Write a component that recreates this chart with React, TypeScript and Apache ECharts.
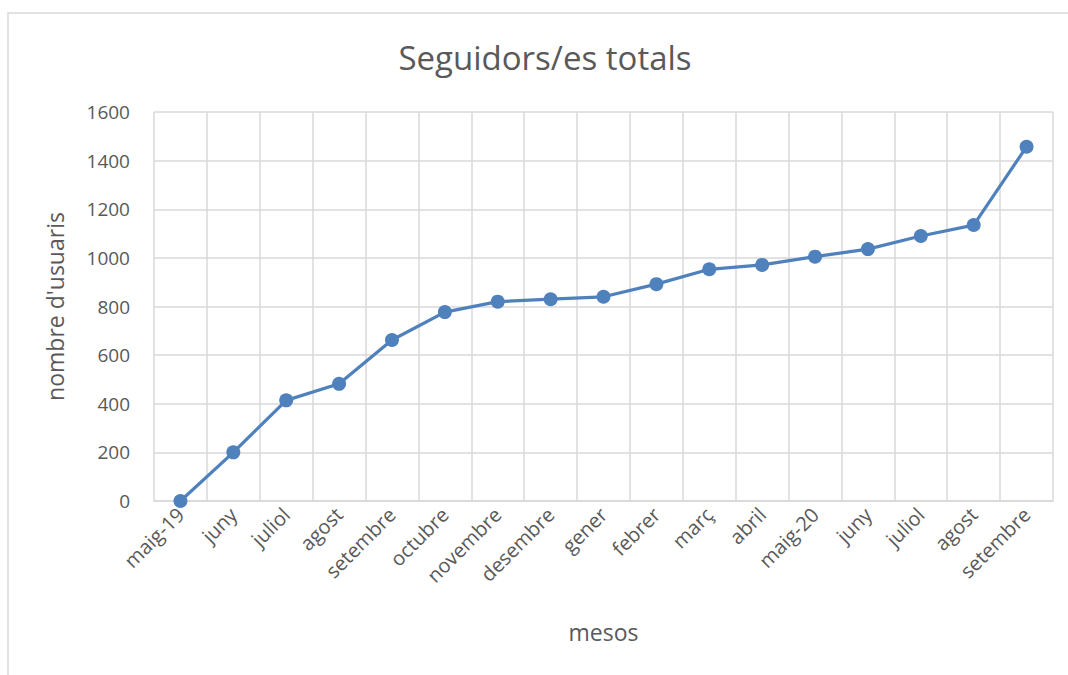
import React, { useEffect, useRef } from "react";
import * as echarts from "echarts";

const categories = [
  "maig-19", "juny", "juliol", "agost", "setembre", "octubre", "novembre", "desembre",
  "gener", "febrer", "març", "abril", "maig-20", "juny", "juliol", "agost", "setembre",
];
const followers = [0, 200, 414, 482, 662, 777, 820, 830, 840, 892, 953, 971, 1005, 1036, 1090, 1135, 1457];
const yTicks = { min: 0, max: 1600, interval: 200 };

const FONT = "'Open Sans', 'Noto Sans', sans-serif";
const TEXT = "#595959";
const GRID = "#D9D9D9";
const BLUE = "#4F81BD";

export default function App() {
  const ref = useRef<HTMLDivElement>(null);
  useEffect(() => {
    if (!ref.current) return;
    const chart = echarts.init(ref.current, null, { renderer: "svg" });
    chart.setOption({
      animation: false,
      backgroundColor: "#ffffff",
      textStyle: { fontFamily: FONT },
      graphic: [
        {
          type: "rect",
          shape: { x: 8, y: 13, width: 1100, height: 700 },
          style: { fill: "none", stroke: GRID, lineWidth: 1.5 },
          silent: true,
        },
      ],
      title: {
        text: "Seguidors/es totals",
        left: 540,
        textAlign: "center",
        top: 36,
        textStyle: { fontFamily: FONT, fontSize: 33, fontWeight: "normal", color: TEXT },
      },
      grid: { left: 154, right: 15, top: 112, bottom: 174, containLabel: false },
      xAxis: {
        type: "category",
        data: categories,
        boundaryGap: true,
        name: "mesos",
        nameLocation: "middle",
        nameGap: 119,
        nameTextStyle: { fontFamily: FONT, fontSize: 23, color: TEXT },
        axisLine: { show: true, lineStyle: { color: GRID, width: 1.5 } },
        axisTick: { show: false },
        splitLine: { show: true, lineStyle: { color: GRID, width: 1.5 } },
        axisLabel: {
          rotate: 45,
          interval: 0,
          margin: 10,
          fontFamily: FONT,
          fontSize: 20,
          color: TEXT,
        },
      },
      yAxis: {
        type: "value",
        min: yTicks.min,
        max: yTicks.max,
        interval: yTicks.interval,
        name: "nombre d'usuaris",
        nameLocation: "middle",
        nameGap: 88,
        nameRotate: 90,
        nameTextStyle: { fontFamily: FONT, fontSize: 23, color: TEXT },
        axisLine: { show: false },
        axisTick: { show: false },
        splitLine: { show: true, lineStyle: { color: GRID, width: 1.5 } },
        axisLabel: {
          margin: 24,
          fontFamily: FONT,
          fontSize: 19,
          color: TEXT,
          formatter: (v: number) => String(v),
        },
      },
      series: [
        {
          type: "line",
          data: followers,
          symbol: "circle",
          symbolSize: 14,
          lineStyle: { color: BLUE, width: 3.25 },
          itemStyle: { color: BLUE },
        },
      ],
    });
    return () => chart.dispose();
  }, []);
  return (
    <div
      ref={ref}
      style={{ position: "absolute", left: 0, top: 0, width: 1068, height: 675 }}
    />
  );
}
